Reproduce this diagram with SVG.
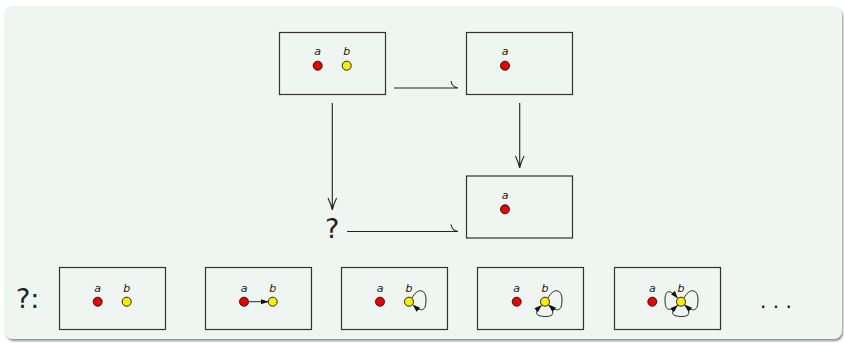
<svg xmlns="http://www.w3.org/2000/svg" width="844" height="343" viewBox="0 0 844 343">
  <defs>
    <filter id="soft" x="-5%" y="-5%" width="110%" height="110%">
      <feGaussianBlur stdDeviation="1"/>
    </filter>
    <marker id="tip" viewBox="0 0 12 10" refX="11" refY="5" markerWidth="8" markerHeight="6.5" markerUnits="userSpaceOnUse" orient="auto">
      <path d="M0 1 L12 5 L0 9 Z" fill="#111"/>
    </marker>
  </defs>
  <style>
    .frame { fill: none; stroke: #333; stroke-width: 1.2; }
    .edge { fill: none; stroke: #222; stroke-width: 1.1; }
    .loop { fill: none; stroke: #111; stroke-width: 0.9; marker-end: url(#tip); }
    .red { fill: #ee0000; stroke: #111; stroke-width: 0.9; }
    .yel { fill: #f8f000; stroke: #111; stroke-width: 0.9; }
    .lbl { font-family: "DejaVu Sans", "Liberation Sans", sans-serif; font-style: italic; font-size: 11px; fill: #1a1a1a; text-anchor: middle; }
    .big { font-family: "DejaVu Sans", "Liberation Sans", sans-serif; font-size: 27px; fill: #222; }
  </style>

  <!-- panel with drop shadow -->
  <rect x="6" y="9" width="837" height="332" rx="8" fill="#8c8c8c" filter="url(#soft)"/>
  <rect x="4" y="6" width="838" height="333" rx="8" fill="#eff5f0"/>

  <!-- connectors -->
  <g id="connectors">
    <!-- top: box1 to box2 (hooked end) -->
    <path class="edge" d="M394 88 H458 M451 81 Q452 87 458 88"/>
    <!-- bottom: ? to box3 (hooked end) -->
    <path class="edge" d="M347 231.5 H458 M451 224.5 Q452 230.5 458 231.5"/>
    <!-- box1 down to ? -->
    <path class="edge" d="M332.3 103 V210 M328 198 Q331 204 332.3 210 Q333.6 204 336.6 198"/>
    <!-- box2 down to box3 -->
    <path class="edge" d="M519.7 103 V168 M515.4 156 Q518.4 162 519.7 168 Q521 162 524 156"/>
  </g>

  <!-- upper diagram -->
  <g id="box1">
    <rect class="frame" x="279.5" y="32.5" width="106" height="62"/>
    <text class="lbl" x="317.7" y="55">a</text>
    <text class="lbl" x="346.7" y="55">b</text>
    <circle class="red" cx="317.7" cy="65.7" r="4.5"/>
    <circle class="yel" cx="346.7" cy="65.7" r="4.5"/>
  </g>
  <g id="box2">
    <rect class="frame" x="466.5" y="32.5" width="106" height="62"/>
    <text class="lbl" x="505" y="55">a</text>
    <circle class="red" cx="505" cy="65.7" r="4.5"/>
  </g>
  <g id="box3">
    <rect class="frame" x="466.5" y="176" width="106" height="62"/>
    <text class="lbl" x="505" y="199">a</text>
    <circle class="red" cx="505" cy="209.3" r="4.5"/>
  </g>
  <g id="unknown">
    <text class="big" x="325" y="238">?</text>
  </g>

  <!-- lower row: candidates -->
  <g id="candidates-label">
    <text class="big" x="16" y="308">?:</text>
  </g>

  <g id="cand1">
    <rect class="frame" x="59.5" y="267.5" width="106" height="62"/>
    <text class="lbl" x="97.7" y="291.5">a</text>
    <text class="lbl" x="126.7" y="291.5">b</text>
    <circle class="red" cx="97.7" cy="301.7" r="4.5"/>
    <circle class="yel" cx="126.7" cy="301.7" r="4.5"/>
  </g>

  <g id="cand2">
    <rect class="frame" x="205.5" y="267.5" width="106" height="62"/>
    <text class="lbl" x="244" y="291.5">a</text>
    <text class="lbl" x="272.7" y="291.5">b</text>
    <path class="loop" d="M248.5 301.7 H268"/>
    <circle class="red" cx="244" cy="301.7" r="4.5"/>
    <circle class="yel" cx="272.7" cy="301.7" r="4.5"/>
  </g>

  <g id="cand3">
    <rect class="frame" x="341.5" y="267.5" width="106" height="62"/>
    <text class="lbl" x="380" y="291.5">a</text>
    <text class="lbl" x="409" y="291.5">b</text>
    <path class="loop" d="M412 298 C417 288 426 288 426 300 C426 309 423 314 413 305"/>
    <circle class="red" cx="380" cy="301.7" r="4.5"/>
    <circle class="yel" cx="409" cy="301.7" r="4.5"/>
  </g>

  <g id="cand4">
    <rect class="frame" x="477.5" y="267.5" width="106" height="62"/>
    <text class="lbl" x="516.7" y="291.5">a</text>
    <text class="lbl" x="545" y="291.5">b</text>
    <path class="loop" d="M548 298 C553 288 562 288 562 300 C562 309 559 314 549 305"/>
    <path class="loop" d="M548.5 305.5 C555 312 554 316.5 546 316.5 C536 316.5 533 313 541.5 305.5"/>
    <circle class="red" cx="516.7" cy="301.7" r="4.5"/>
    <circle class="yel" cx="545" cy="301.7" r="4.5"/>
  </g>

  <g id="cand5">
    <rect class="frame" x="614.5" y="267.5" width="106" height="62"/>
    <text class="lbl" x="652.3" y="291.5">a</text>
    <text class="lbl" x="681" y="291.5">b</text>
    <path class="loop" d="M684 298 C689 288 698 288 698 300 C698 309 695 314 685 305"/>
    <path class="loop" d="M684.5 305.5 C691 312 690 316.5 682 316.5 C672 316.5 669 313 677.5 305.5"/>
    <path class="loop" d="M677.5 305.5 C668 313 665 309 665 300 C665 291 669 288 677.5 298"/>
    <circle class="red" cx="652.3" cy="301.7" r="4.5"/>
    <circle class="yel" cx="681" cy="301.7" r="4.5"/>
  </g>

  <g id="more">
    <text font-family="DejaVu Sans, sans-serif" font-size="20" fill="#111" x="760" y="308">. . .</text>
  </g>
</svg>
